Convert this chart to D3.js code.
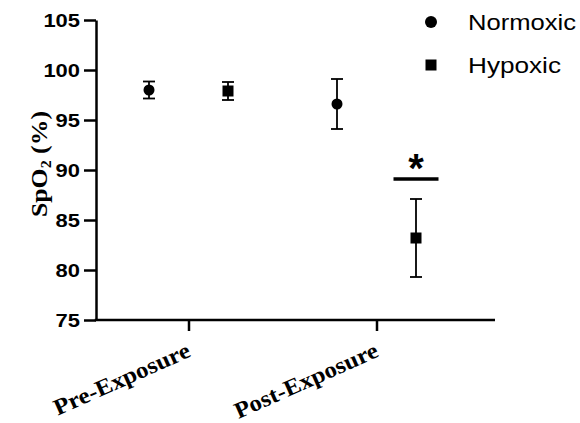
<!DOCTYPE html>
<html>
<head>
<meta charset="utf-8">
<script src="https://cdn.jsdelivr.net/npm/d3@7/dist/d3.min.js"></script>
<style>
  html, body { margin: 0; padding: 0; background: #fff; }
  svg { display: block; }
</style>
</head>
<body>
<svg id="chart" width="580" height="423"></svg>
<script>
// ---- Data ----
const categories = ["Pre-Exposure", "Post-Exposure"];
const seriesNames = ["Normoxic", "Hypoxic"];
const normoxicMean = [98.0, 96.6];
const normoxicErr = [0.85, 2.5];
const hypoxicMean = [97.9, 83.2];
const hypoxicErr = [0.9, 3.9];
const yTicks = [75, 80, 85, 90, 95, 100, 105];
const significance = [{ category: "Post-Exposure", series: "Hypoxic", level: 89.1, label: "*" }];

(function () {
// ---- Layout ----
const svg = d3.select("#chart");
const mLeft = 96, mTop = 20, plotH = 300, axisRight = 495;
const mBottom = mTop + plotH;

const y = d3.scaleLinear().domain([75, 105]).range([mBottom, mTop]);
const x = d3.scalePoint().domain(categories).range([189, 377]);
const offset = d3.scalePoint().domain(seriesNames).range([-40, 39]);

const series = [
  { name: "Normoxic", mean: normoxicMean, err: normoxicErr, shape: "circle" },
  { name: "Hypoxic", mean: hypoxicMean, err: hypoxicErr, shape: "square" }
];

// ---- Y axis ----
const yAxis = d3.axisLeft(y).tickValues(yTicks).tickSize(12).tickPadding(4).tickSizeOuter(0);
const gy = svg.append("g").attr("transform", `translate(${mLeft},0)`).call(yAxis);
gy.select(".domain").attr("stroke", "#000").attr("stroke-width", 2.5);
gy.selectAll(".tick line").attr("stroke", "#000").attr("stroke-width", 2.5);
gy.selectAll(".tick text")
  .attr("fill", "#000")
  .style("font-family", "Arial, 'Liberation Sans', sans-serif")
  .style("font-weight", "bold")
  .style("font-size", "19px")
  .attr("textLength", d => String(d).length * 12.2)
  .attr("lengthAdjust", "spacingAndGlyphs");

// ---- X axis ----
svg.append("line")
  .attr("x1", mLeft - 1.25).attr("x2", axisRight)
  .attr("y1", mBottom).attr("y2", mBottom)
  .attr("stroke", "#000").attr("stroke-width", 2.5);

const gx = svg.append("g");
gx.selectAll("line.xt").data(categories).join("line")
  .attr("class", "xt")
  .attr("x1", d => x(d)).attr("x2", d => x(d))
  .attr("y1", mBottom).attr("y2", mBottom + 11)
  .attr("stroke", "#000").attr("stroke-width", 2.5);

const xLabelLen = { "Pre-Exposure": 147, "Post-Exposure": 155 };
gx.selectAll("text.xl").data(categories).join("text")
  .attr("class", "xl")
  .attr("transform", d => `translate(${x(d) + 3},${mBottom + 36}) rotate(-24)`)
  .attr("text-anchor", "end")
  .style("font-family", "'Times New Roman', 'Liberation Serif', serif")
  .style("font-weight", "bold")
  .style("font-size", "23px")
  .attr("textLength", d => xLabelLen[d])
  .attr("lengthAdjust", "spacingAndGlyphs")
  .text(d => d);

// ---- Y title ----
const yt = svg.append("text")
  .attr("transform", `translate(47,${mTop + 144}) rotate(-90)`)
  .attr("text-anchor", "middle")
  .attr("textLength", 106)
  .attr("lengthAdjust", "spacingAndGlyphs")
  .style("font-family", "'Times New Roman', 'Liberation Serif', serif")
  .style("font-weight", "bold")
  .style("font-size", "24px");
yt.append("tspan").text("SpO");
yt.append("tspan").attr("baseline-shift", "-25%").style("font-size", "15px").text("2");
yt.append("tspan").text("\u00A0(%)");

// ---- Error bars and points ----
const capW = 12;
series.forEach(s => {
  const g = svg.append("g");
  const rows = categories.map((c, i) => ({ c, m: s.mean[i], e: s.err[i] }));
  const cx = d => x(d.c) + offset(s.name);
  g.selectAll("line.v").data(rows).join("line")
    .attr("class", "v")
    .attr("x1", cx).attr("x2", cx)
    .attr("y1", d => y(d.m + d.e)).attr("y2", d => y(d.m - d.e))
    .attr("stroke", "#000").attr("stroke-width", 1.8);
  ["t", "b"].forEach(side => {
    g.selectAll("line.cap" + side).data(rows).join("line")
      .attr("class", "cap" + side)
      .attr("x1", d => cx(d) - capW / 2).attr("x2", d => cx(d) + capW / 2)
      .attr("y1", d => y(side === "t" ? d.m + d.e : d.m - d.e))
      .attr("y2", d => y(side === "t" ? d.m + d.e : d.m - d.e))
      .attr("stroke", "#000").attr("stroke-width", 1.8);
  });
  if (s.shape === "circle") {
    g.selectAll("circle").data(rows).join("circle")
      .attr("cx", cx).attr("cy", d => y(d.m)).attr("r", 5.5).attr("fill", "#000");
  } else {
    g.selectAll("rect").data(rows).join("rect")
      .attr("x", d => cx(d) - 5.5).attr("y", d => y(d.m) - 5.5)
      .attr("width", 11).attr("height", 11).attr("fill", "#000");
  }
});

// ---- Significance ----
significance.forEach(sg => {
  const cx = x(sg.category) + offset(sg.series);
  svg.append("line")
    .attr("x1", cx - 22.5).attr("x2", cx + 22.5)
    .attr("y1", y(sg.level)).attr("y2", y(sg.level))
    .attr("stroke", "#000").attr("stroke-width", 3.5);
  svg.append("text")
    .attr("x", cx).attr("y", y(sg.level) + 3)
    .attr("text-anchor", "middle")
    .style("font-family", "Arial, 'Liberation Sans', sans-serif")
    .style("font-weight", "bold")
    .style("font-size", "40px")
    .text(sg.label);
});

// ---- Legend ----
const legend = svg.append("g");
const legY = d3.scalePoint().domain(seriesNames).range([22, 65]);
const legLen = { "Normoxic": 108, "Hypoxic": 93 };
series.forEach(s => {
  const ly = legY(s.name);
  if (s.shape === "circle") {
    legend.append("circle").attr("cx", 431).attr("cy", ly).attr("r", 6).attr("fill", "#000");
  } else {
    legend.append("rect").attr("x", 425.5).attr("y", ly - 5.5).attr("width", 11).attr("height", 11).attr("fill", "#000");
  }
  legend.append("text")
    .attr("x", 468).attr("y", ly + 8)
    .style("font-family", "Arial, 'Liberation Sans', sans-serif")
    .style("font-size", "22px")
    .attr("textLength", legLen[s.name])
    .attr("lengthAdjust", "spacingAndGlyphs")
    .text(s.name);
});
})();
</script>
</body>
</html>
